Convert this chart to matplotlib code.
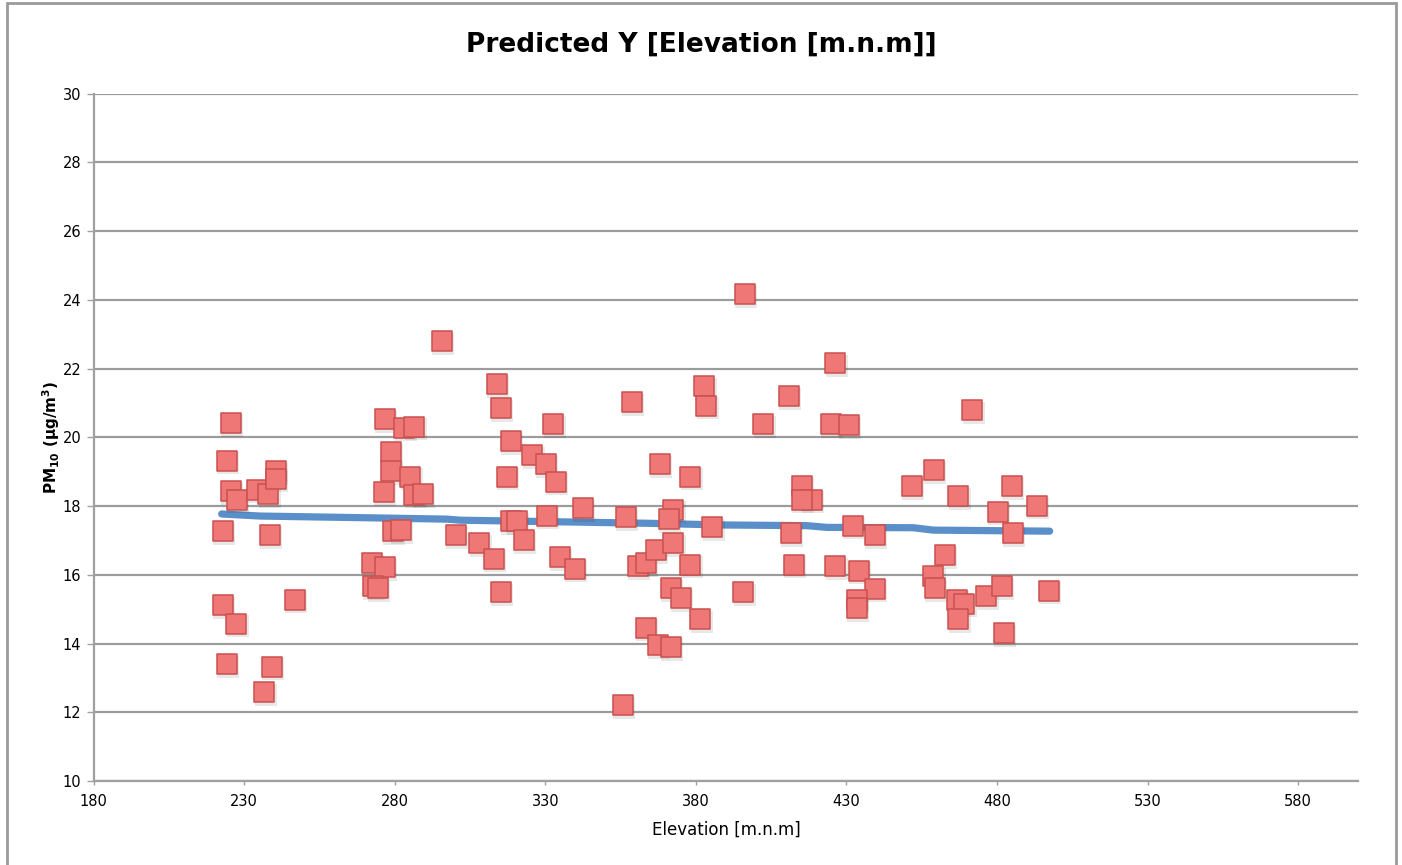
import numpy as np
import matplotlib
matplotlib.use("Agg")
import matplotlib.pyplot as plt
from matplotlib.patches import Rectangle

elev = [222.9, 222.9, 224.2, 224.2, 225.5, 225.5, 227.5, 227.4, 234.2, 236.7,
        238.0, 238.6, 239.3, 240.4, 240.4, 246.9,
        276.8, 283.2, 286.5, 278.8, 278.8, 285.2, 276.4, 286.5, 289.3, 279.3,
        282.1, 272.4, 276.8, 272.7, 274.4,
        396.4, 295.7, 313.9, 315.3, 358.7, 382.8, 383.5, 402.4, 332.7, 318.6,
        325.7, 330.3, 333.4, 317.3, 368.0, 378.2, 342.5, 356.7, 372.5, 371.1,
        330.4, 318.5, 320.5, 385.5, 300.3, 308.1, 323.0, 312.9, 334.8, 339.8,
        360.7, 363.4, 366.7, 372.5, 378.2, 315.3, 371.7, 374.9, 395.8, 363.4,
        381.5, 367.3, 371.7, 355.7,
        426.3, 410.8, 424.9, 430.7, 471.8, 459.0, 451.7, 415.3, 418.6, 415.3,
        467.2, 484.9, 480.2, 493.3, 411.5, 432.2, 439.5, 485.3, 412.6, 426.3,
        434.2, 462.8, 439.4, 433.5, 433.5, 458.9, 459.5, 466.8, 469.2, 467.2,
        476.5, 481.6, 497.2, 482.2]
pm10 = [17.27, 15.11, 13.40, 19.32, 20.41, 18.43, 18.19, 14.58, 18.48, 12.59,
        18.35, 17.15, 13.33, 19.01, 18.80, 15.28,
        20.53, 20.28, 20.31, 19.56, 19.01, 18.86, 18.41, 18.33, 18.35, 17.27,
        17.31, 16.35, 16.23, 15.67, 15.62,
        24.17, 22.79, 21.54, 20.86, 21.02, 21.49, 20.92, 20.39, 20.39, 19.89,
        19.49, 19.21, 18.71, 18.86, 19.21, 18.86, 17.94, 17.67, 17.90, 17.63,
        17.72, 17.56, 17.56, 17.38, 17.15, 16.93, 17.00, 16.47, 16.52, 16.18,
        16.25, 16.35, 16.71, 16.93, 16.30, 15.49, 15.62, 15.33, 15.49, 14.46,
        14.70, 13.96, 13.90, 12.21,
        22.17, 21.20, 20.39, 20.35, 20.80, 19.04, 18.57, 18.59, 18.19, 18.19,
        18.28, 18.59, 17.84, 18.01, 17.22, 17.43, 17.15, 17.22, 16.30, 16.25,
        16.12, 16.58, 15.60, 15.28, 15.04, 15.96, 15.62, 15.28, 15.16, 14.70,
        15.38, 15.67, 15.54, 14.30]

# predicted Y
pred_x = [222.5, 235.3, 270.7, 297.3, 301.7, 363.7, 389.1, 416.9, 423.5, 452.2, 458.9, 497.5]
pred_y = [17.77, 17.71, 17.66, 17.62, 17.59, 17.50, 17.45, 17.43, 17.38, 17.37, 17.30, 17.27]

yticks = np.arange(10, 31, 2)
xticks = np.arange(180, 600, 50)

plt.rcParams['font.family'] = ['DejaVu Sans']

fig = plt.figure(figsize=(14.02, 8.65), dpi=100)
# chart-area border
fig.patches.append(Rectangle((7/1402, -0.05), 1389/1402, 1.047, transform=fig.transFigure,
                             fill=False, edgecolor='#9a9a9a', linewidth=2))
ax = fig.add_axes([93.7/1402, 1-781/865, (1358.3-93.7)/1402, (781-93.7)/865])

ax.set_xlim(180, 600)
ax.set_ylim(10, 30)
ax.set_xticks(xticks)
ax.set_yticks(yticks)
ax.grid(axis='y', color='#9c9c9c', linewidth=1.6, zorder=0)
for s in ['top', 'right']:
    ax.spines[s].set_visible(False)
for s in ['left', 'bottom']:
    ax.spines[s].set_color('#a0a0a0')
    ax.spines[s].set_linewidth(1.6)
ax.tick_params(axis='y', length=5, width=1, color='#a0a0a0', labelsize=10.5, pad=4)
ax.tick_params(axis='x', length=3, width=1, color='#a0a0a0', labelsize=10.5, pad=6)

ax.plot(pred_x, pred_y, color='#5b8fc9', linewidth=5.2, solid_capstyle='round', zorder=2)

ex = np.array(elev)
py = np.array(pm10)
# soft shadow under each square
ax.scatter(ex + 0.4, py - 0.08, marker='s', s=16**2, color='#000000', alpha=0.09,
           linewidths=0, zorder=3)
ax.scatter(ex, py, marker='s', s=14.8**2, facecolor='#ef7877', edgecolor='#c9504e',
           linewidths=1.1, zorder=4)

fig.suptitle('Predicted Y [Elevation [m.n.m]]', x=0.5, y=1-45/865, va='center',
             fontsize=19, fontweight='bold')
ax.set_xlabel('Elevation [m.n.m]', fontsize=12, labelpad=9)
ax.set_ylabel(r'PM$_{\mathbf{10}}$ ($\mathbf{\mu}$g/m$^{\mathbf{3}}$)', fontsize=11,
              fontweight='bold', labelpad=0)

fig.savefig('out.png', dpi=100)
